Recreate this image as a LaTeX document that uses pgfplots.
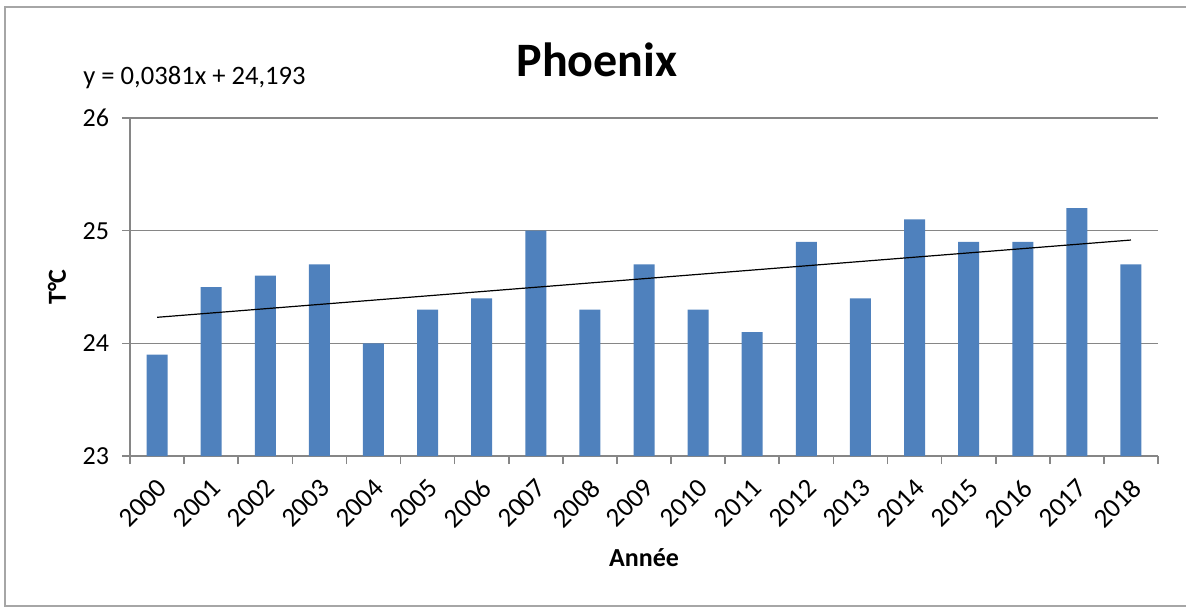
\documentclass[border=0pt]{standalone}
\usepackage{pgfplots}
\pgfplotsset{compat=1.18}
\usepackage{fontspec}
\setmainfont{Carlito}
\definecolor{barblue}{HTML}{4F81BD}
\definecolor{gridgray}{HTML}{868686}
\definecolor{framegray}{HTML}{A6A6A6}
\begin{document}
\begin{tikzpicture}
\path[use as bounding box] (-65pt,-75.5pt) rectangle (528pt,228pt);
\draw[framegray, line width=1pt] (530pt,-75pt) -- (-62.5pt,-75pt) -- (-62.5pt,224.5pt) -- (530pt,224.5pt);
\begin{axis}[
  at={(0,0)}, anchor=south west,
  scale only axis, width=514pt, height=169pt,
  xmin=-0.5, xmax=18.5, ymin=23, ymax=26,
  axis lines*=left,
  axis line style={gridgray, line width=0.8pt},
  ytick={23,24,25,26},
  ymajorgrids, grid style={gridgray, line width=0.8pt},
  xtick={0,...,18},
  xticklabels={2000,2001,2002,2003,2004,2005,2006,2007,2008,2009,2010,2011,2012,2013,2014,2015,2016,2017,2018},
  minor xtick={-0.5,0.5,...,18.5},
  tick align=outside,
  major tick length=4pt, minor tick length=4pt,
  major x tick style={draw=none},
  minor x tick style={gridgray, line width=0.8pt},
  major y tick style={gridgray, line width=0.8pt},
  yticklabel style={font=\fontsize{13}{15}\selectfont, xshift=-3pt},
  xticklabel style={font=\fontsize{13.5}{15}\selectfont, inner sep=0pt, xshift=-0.5pt, yshift=-6.5pt, rotate=45, anchor=north east},
  /pgf/number format/assume math mode=true,
]
\addplot[ybar, bar width=10.5pt, fill=barblue, draw=none] coordinates {
  (0,23.9) (1,24.5) (2,24.6) (3,24.7) (4,24.0) (5,24.3) (6,24.4)
  (7,25.0) (8,24.3) (9,24.7) (10,24.3) (11,24.1) (12,24.9) (13,24.4)
  (14,25.1) (15,24.9) (16,24.9) (17,25.2) (18,24.7)
};
% trend line y = 0.0381x + 24.193 (x = 1..19)
\addplot[black, line width=0.6pt] coordinates {(0,24.2311) (18,24.917)};
\end{axis}
\node[font=\fontsize{24}{28}\selectfont\bfseries] at (233.5pt,198pt) {Phoenix};
\node[anchor=west, inner sep=0pt, font=\fontsize{13.3}{15}\selectfont] at (-23.5pt,189pt) {y = 0,0381x + 24,193};
\node[rotate=90, font=\fontsize{13}{15}\selectfont\bfseries] at (-36.5pt,84.5pt) {T°C};
\node[font=\fontsize{13}{15}\selectfont\bfseries] at (257pt,-51pt) {Année};
\end{tikzpicture}
\end{document}
